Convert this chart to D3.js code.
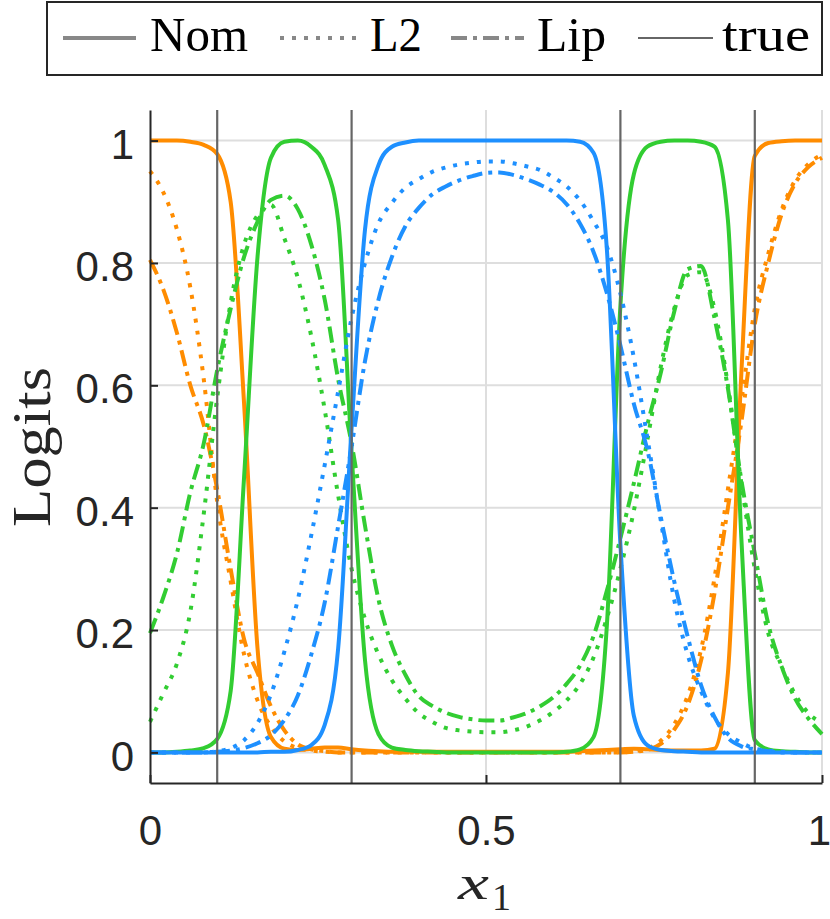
<!DOCTYPE html>
<html>
<head>
<meta charset="utf-8">
<script src="https://d3js.org/d3.v7.min.js"></script>
<style>
  body { margin: 0; background: #fff; }
  svg { display: block; }
  .axis .tick text { font-family: "Liberation Sans", Arial, sans-serif; font-size: 42px; fill: #262626; }
  .axis .tick line { stroke: #262626; stroke-width: 2; }
  .axis .domain { stroke: #262626; stroke-width: 2; }
  .grid line { stroke: #dedede; stroke-width: 2; }
</style>
</head>
<body>
<svg id="chart" width="830" height="919"></svg>
<script>
// sample positions along x1
const xs = [0, 0.02, 0.04, 0.06, 0.08, 0.10, 0.12, 0.14, 0.16, 0.18,
            0.20, 0.22, 0.24, 0.26, 0.28, 0.30, 0.32, 0.34, 0.36, 0.38,
            0.40, 0.42, 0.44, 0.46, 0.48, 0.50, 0.52, 0.54, 0.56, 0.58,
            0.60, 0.62, 0.64, 0.66, 0.68, 0.70, 0.72, 0.74, 0.76, 0.78,
            0.80, 0.82, 0.84, 0.86, 0.88, 0.90, 0.92, 0.94, 0.96, 0.98, 1.00];

// class 1 (orange)
const orangeNom = [1, 1, 1, 0.998, 0.993, 0.978, 0.90, 0.57, 0.17, 0.025,
                   0.006, 0.004, 0.006, 0.008, 0.008, 0.005, 0.003, 0.002, 0.001, 0.001,
                   0.001, 0.001, 0.001, 0.001, 0.001, 0.001, 0.001, 0.001, 0.001, 0.001,
                   0.001, 0.001, 0.002, 0.003, 0.004, 0.005, 0.006, 0.005, 0.004, 0.003,
                   0.003, 0.003, 0.006, 0.13, 0.62, 0.975, 0.996, 0.999, 1, 1, 1];
const orangeL2  = [0.95, 0.915, 0.855, 0.76, 0.61, 0.41, 0.28, 0.16, 0.085, 0.042,
                   0.018, 0.007, 0.003, 0.001, 0, 0, 0, 0, 0, 0,
                   0, 0, 0, 0, 0, 0, 0, 0, 0, 0,
                   0, 0, 0, 0, 0, 0, 0.002, 0.006, 0.019, 0.046,
                   0.092, 0.168, 0.285, 0.43, 0.575, 0.725, 0.815, 0.887, 0.935, 0.962, 0.977];
const orangeLip = [0.805, 0.756, 0.686, 0.60, 0.535, 0.43, 0.30, 0.185, 0.13, 0.075,
                   0.036, 0.013, 0.005, 0.002, 0, 0, 0, 0, 0, 0,
                   0, 0, 0, 0, 0, 0, 0, 0, 0, 0,
                   0, 0, 0, 0, 0, 0, 0.001, 0.004, 0.014, 0.037,
                   0.077, 0.15, 0.26, 0.40, 0.54, 0.70, 0.80, 0.88, 0.93, 0.957, 0.972];

// class 2 (green)
const greenNom = [0, 0, 0.001, 0.003, 0.007, 0.022, 0.10, 0.45, 0.81, 0.972,
                  0.998, 1, 0.99, 0.96, 0.87, 0.49, 0.15, 0.03, 0.008, 0.004,
                  0.002, 0.001, 0, 0, 0, 0, 0, 0, 0, 0,
                  0, 0.001, 0.005, 0.025, 0.21, 0.73, 0.945, 0.99, 0.998, 1,
                  1, 0.998, 0.99, 0.87, 0.35, 0.02, 0.005, 0.002, 0.001, 0, 0];
const greenL2  = [0.05, 0.097, 0.145, 0.23, 0.39, 0.58, 0.735, 0.83, 0.878, 0.895,
                  0.84, 0.775, 0.68, 0.56, 0.42, 0.30, 0.218, 0.16, 0.118, 0.088,
                  0.064, 0.05, 0.04, 0.036, 0.034, 0.033, 0.033, 0.036, 0.042, 0.052,
                  0.066, 0.085, 0.112, 0.155, 0.22, 0.30, 0.395, 0.51, 0.63, 0.725,
                  0.78, 0.785, 0.725, 0.60, 0.44, 0.30, 0.195, 0.14, 0.095, 0.064, 0.048];
const greenLip = [0.195, 0.254, 0.325, 0.425, 0.505, 0.625, 0.725, 0.81, 0.867, 0.903,
                  0.91, 0.888, 0.83, 0.74, 0.61, 0.505, 0.37, 0.25, 0.175, 0.127,
                  0.092, 0.076, 0.065, 0.058, 0.054, 0.052, 0.052, 0.057, 0.064, 0.075,
                  0.09, 0.112, 0.142, 0.19, 0.265, 0.35, 0.44, 0.535, 0.62, 0.72,
                  0.79, 0.795, 0.71, 0.595, 0.445, 0.325, 0.21, 0.14, 0.088, 0.055, 0.03];

// class 3 (blue)
const blueNom = [0, 0, 0, 0, 0, 0, 0, 0, 0, 0.001,
                 0.001, 0.004, 0.012, 0.045, 0.17, 0.53, 0.855, 0.96, 0.99, 0.997,
                 1, 1, 1, 1, 1, 1, 1, 1, 1, 1,
                 1, 1, 0.998, 0.98, 0.82, 0.34, 0.06, 0.012, 0.004, 0.002,
                 0.001, 0, 0, 0, 0, 0, 0, 0, 0, 0, 0];
const blueL2  = [0, 0, 0, 0, 0, 0.002, 0.007, 0.02, 0.048, 0.095,
                 0.165, 0.25, 0.355, 0.47, 0.59, 0.71, 0.80, 0.865, 0.898, 0.923,
                 0.937, 0.949, 0.956, 0.961, 0.964, 0.966, 0.966, 0.963, 0.958, 0.952,
                 0.94, 0.925, 0.902, 0.868, 0.826, 0.75, 0.645, 0.515, 0.38, 0.25,
                 0.16, 0.10, 0.056, 0.03, 0.016, 0.006, 0.003, 0.001, 0, 0, 0];
const blueLip = [0, 0, 0, 0, 0, 0.001, 0.003, 0.007, 0.015, 0.028,
                 0.053, 0.093, 0.16, 0.245, 0.37, 0.50, 0.64, 0.74, 0.81, 0.86,
                 0.89, 0.912, 0.925, 0.935, 0.942, 0.947, 0.948, 0.944, 0.937, 0.928,
                 0.916, 0.896, 0.864, 0.818, 0.75, 0.665, 0.57, 0.495, 0.385, 0.28,
                 0.19, 0.11, 0.058, 0.024, 0.01, 0.005, 0.002, 0, 0, 0, 0];

// true decision boundaries
const trueBounds = [0.1, 0.3, 0.7, 0.9];

const yTicks = [0, 0.2, 0.4, 0.6, 0.8, 1];
const yTickLabels = ["0", "0.2", "0.4", "0.6", "0.8", "1"];
const xTicks = [0, 0.5, 1];
const xTickLabels = ["0", "0.5", "1"];
const legendLabels = ["Nom", "L2", "Lip", "true"];

const orange = "#ff8c00", green = "#32cd32", blue = "#1e90ff";
const styles = {
  Nom: null,
  L2: "4,8",
  Lip: "16,6,4,6"
};

const series = [
  { color: orange, kind: "Nom", vals: orangeNom },
  { color: orange, kind: "L2",  vals: orangeL2 },
  { color: orange, kind: "Lip", vals: orangeLip },
  { color: green,  kind: "Nom", vals: greenNom },
  { color: green,  kind: "L2",  vals: greenL2 },
  { color: green,  kind: "Lip", vals: greenLip },
  { color: blue,   kind: "Nom", vals: blueNom },
  { color: blue,   kind: "L2",  vals: blueL2 },
  { color: blue,   kind: "Lip", vals: blueLip }
];

let svg = d3.select("svg#chart");
let margin = { top: 110, right: 8, bottom: 136, left: 150 };
let width = +svg.attr("width"), height = +svg.attr("height");

var x = d3.scaleLinear().domain([0, 1]).range([margin.left, width - margin.right]);
var y = d3.scaleLinear().domain([-0.05, 1.05]).range([height - margin.bottom, margin.top]);

// grid
let grid = svg.append("g").attr("class", "grid");
grid.selectAll("line.h").data(yTicks).enter().append("line")
  .attr("x1", x(0)).attr("x2", x(1))
  .attr("y1", d => y(d)).attr("y2", d => y(d));
grid.selectAll("line.v").data(xTicks.slice(1)).enter().append("line")
  .attr("x1", d => x(d)).attr("x2", d => x(d))
  .attr("y1", y(-0.05)).attr("y2", y(1.05));

// curves
var line = d3.line()
  .x((d, i) => x(xs[i]))
  .y(d => y(d))
  .curve(d3.curveMonotoneX);

svg.append("g").attr("class", "curves")
  .selectAll("path").data(series).enter().append("path")
  .attr("d", d => line(d.vals))
  .attr("fill", "none")
  .attr("stroke", d => d.color)
  .attr("stroke-width", 4)
  .attr("stroke-dasharray", d => styles[d.kind]);

// true boundaries
svg.append("g").selectAll("line").data(trueBounds).enter().append("line")
  .attr("x1", d => x(d)).attr("x2", d => x(d))
  .attr("y1", y(-0.05)).attr("y2", y(1.05))
  .attr("stroke", "#666").attr("stroke-width", 2.2);

// axes
let leftAxis = d3.axisLeft(y).tickValues(yTicks)
  .tickFormat((d, i) => yTickLabels[i])
  .tickSizeInner(-8).tickSizeOuter(0).tickPadding(16);
svg.append("g").attr("class", "axis y")
  .attr("transform", "translate(" + x(0) + ",0)")
  .call(leftAxis)
  .selectAll(".tick text").attr("dy", "0.42em");

let bottomAxis = d3.axisBottom(x).tickValues(xTicks)
  .tickFormat((d, i) => xTickLabels[i])
  .tickSizeInner(-8).tickSizeOuter(0).tickPadding(32);
let xg = svg.append("g").attr("class", "axis x")
  .attr("transform", "translate(0," + y(-0.05) + ")")
  .call(bottomAxis);
// keep the last label inside the page, like the reference
xg.selectAll(".tick text").filter(d => d === 1).attr("dx", "-3");

// axis labels
svg.append("text")
  .attr("transform", "translate(50," + 447 + ") rotate(-90)")
  .attr("text-anchor", "middle")
  .attr("textLength", 160).attr("lengthAdjust", "spacingAndGlyphs")
  .style("font-family", "'Liberation Serif', serif")
  .style("font-size", "54px").style("fill", "#262626")
  .text("Logits");

svg.append("text")
  .attr("x", 458).attr("y", 899)
  .attr("textLength", 31).attr("lengthAdjust", "spacingAndGlyphs")
  .style("font-family", "'Liberation Serif', serif").style("font-style", "italic")
  .style("font-size", "48px").style("fill", "#262626")
  .text("x");
svg.append("text")
  .attr("x", 492).attr("y", 910)
  .style("font-family", "'Liberation Serif', serif")
  .style("font-size", "38px").style("fill", "#262626")
  .text("1");

// legend
let legend = svg.append("g").attr("class", "legend");
legend.append("rect")
  .attr("x", 47).attr("y", 2).attr("width", 775).attr("height", 73)
  .attr("fill", "#fff").attr("stroke", "#262626").attr("stroke-width", 2);

let legendItems = [
  { x1: 63,  x2: 136, tx: 150, tw: 98, dash: styles.Nom, sw: 4,   col: "#888" },
  { x1: 280, x2: 356, tx: 370, tw: 52, dash: styles.L2,  sw: 4,   col: "#888" },
  { x1: 451, x2: 524, tx: 537, tw: 69, dash: styles.Lip, sw: 4,   col: "#888" },
  { x1: 638, x2: 713, tx: 722, tw: 88, dash: null,       sw: 2.2, col: "#666" }
];
let li = legend.selectAll("g.item").data(legendItems).enter().append("g").attr("class", "item");
li.append("line")
  .attr("x1", d => d.x1).attr("x2", d => d.x2)
  .attr("y1", 38).attr("y2", 38)
  .attr("stroke", d => d.col).attr("stroke-width", d => d.sw)
  .attr("stroke-dasharray", d => d.dash);
li.append("text")
  .attr("x", d => d.tx).attr("y", 51)
  .attr("textLength", d => d.tw).attr("lengthAdjust", "spacingAndGlyphs")
  .style("font-family", "'Liberation Serif', serif")
  .style("font-size", "48px").style("fill", "#000")
  .text((d, i) => legendLabels[i]);
</script>
</body>
</html>
